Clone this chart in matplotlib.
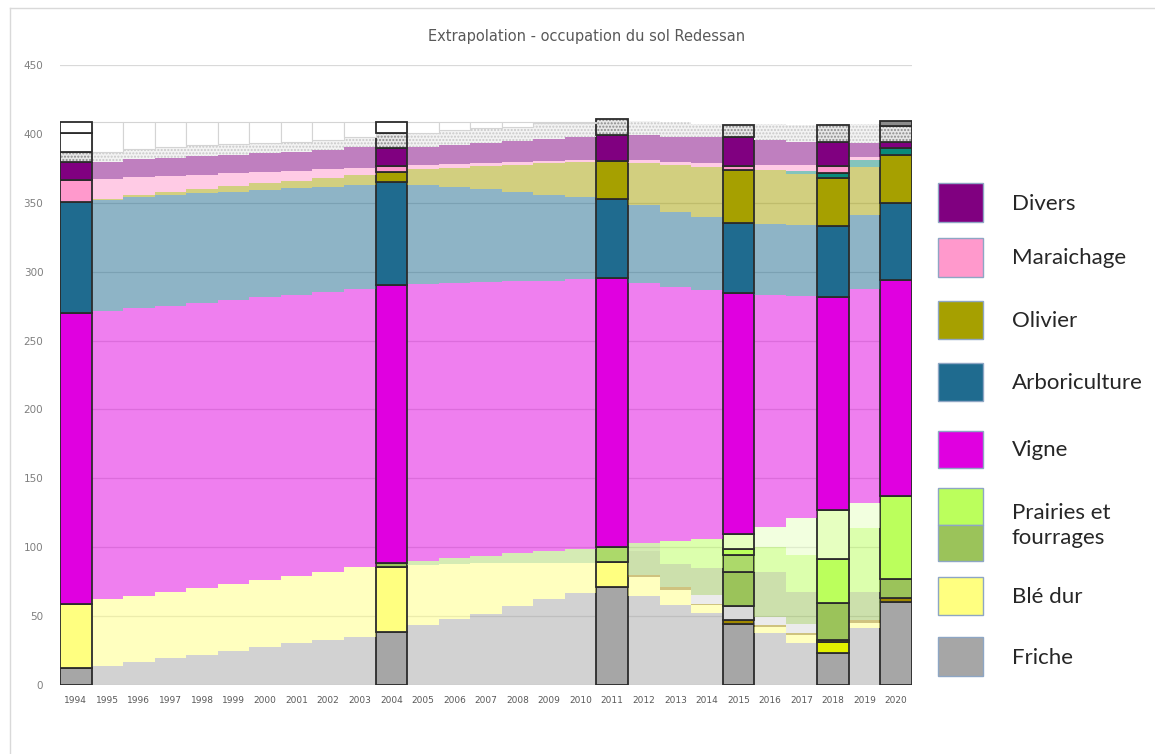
import matplotlib.pyplot as plt
from matplotlib.patches import Rectangle
from matplotlib.lines import Line2D
from matplotlib.colors import to_rgba

# Années et années réellement observées (barres pleines)
annees = list(range(1994, 2021))
observees = [1994, 2004, 2011, 2015, 2018, 2020]

# Surfaces (ha), de bas en haut
friche = [12.1, 13.8, 16.5, 19.4, 21.8, 24.9, 27.4, 30.3, 32.7, 35.1, 38.7, 43.5, 47.6, 51.5,
          57.3, 62.2, 66.5, 70.9, 64.6, 58.1, 52, 44.3, 37.5, 30.2, 23.2, 41.1, 60]
ble_dur = [46.5, 48.4, 48.1, 48.3, 48.4, 48.4, 48.8, 48.8, 49.5, 50.3, 46.9, 43.6, 40.2, 36.8,
           31, 26.1, 21.8, 18.6, 14, 10.9, 6, 0, 4.8, 6.4, 0, 4.1, 0]
cereales = [0]*24 + [8.2, 0, 0]
autres = [0]*18 + [1.2, 1.9, 0.8, 3.2, 1.2, 1.4, 1.1, 2, 2.9]
gris_clair = [0]*20 + [6.5, 9.8, 6, 6, 0, 0, 0]
prairie_fonce = [0]*10 + [3.2] + [0]*7 + [17.2, 17.1, 19.3, 24.7, 32.7, 23.7, 27, 20.5, 13.8]
prairie_mid = [0]*11 + [3.1, 4.1, 5.3, 7.3, 9, 10.4, 10.7, 5.8, 0, 0, 12.5, 0, 0, 0, 0, 0]
prairie_clair = [0]*19 + [16.5, 21.4, 4, 18.2, 26.7, 31.9, 46, 60.5]
prairie_pale = [0]*21 + [10.9, 14.5, 26.6, 35.6, 18.6, 0]
vigne = [211.4, 209.2, 209, 207.3, 207, 206.1, 205.3, 203.9, 203, 201.9, 201.5, 200.8, 199.7,
         198.9, 197.4, 196.2, 195.7, 195.2, 189.2, 184.5, 181, 175.3, 168, 161.3, 154.8, 154.9, 156.8]
arboriculture = [80.8, 80.6, 80.3, 80.6, 79.6, 78.6, 77.8, 77.5, 76, 75.6, 74.8, 71.9, 69.6, 67.2,
                 65, 62.1, 60, 57.3, 56.4, 54.5, 52.9, 50.8, 51.6, 51.6, 51.3, 53.9, 55.6]
olivier = [0, 0.5, 1.5, 2.5, 3, 4, 5, 5.5, 6.5, 7.5, 7.5, 11.3, 14.2, 16.9, 19.4, 23, 25.4, 27.6,
           30.6, 33.9, 36.3, 38.3, 39.2, 37, 35, 35.1, 35.1]
sarcle = [0]*23 + [2.4, 3.5, 4.8, 5.3]
maraichage = [15.7, 14.8, 13.1, 11.4, 10.7, 9.5, 8.2, 7.3, 6.5, 4.6, 4.4, 3.2, 3, 2.5, 2, 1.5, 1,
              0, 2, 2.4, 2.4, 3.2, 4, 4.1, 5, 2.5, 0]
divers = [13.3, 12.5, 13, 13.2, 13.5, 13.2, 13.4, 13.8, 14.1, 15.6, 12.7, 13.2, 13.5, 14.5, 15.6,
          16.1, 16.6, 19, 18.2, 18.2, 18.8, 20.5, 18.2, 16.9, 17.8, 10.1, 4.3]
hachure = [7.3, 7.3, 7.3, 7.9, 7.9, 7.9, 7.7, 7.2, 7.3, 7.4, 10.9, 9.9, 10.9, 10.4, 10.2, 11.4,
           10.7, 11.7, 10.4, 10.8, 9.8, 8.9, 11.2, 12.1, 12.1, 13.6, 11.4]
gris_fonce = [0]*26 + [3.9]
blanc = [13.4, 21.7, 20, 18.2, 16.9, 16.2, 15.2, 14.5, 13.2, 10.8, 0, 8.3, 6, 4.8, 3.6, 1.2, 0.7] + [0]*10
blanc_haut = [8.3] + [0]*9 + [8.2] + [0]*16

couches = [
    ("friche", friche, '#a6a6a6'),
    ("ble", ble_dur, '#ffff80'),
    ("cereales", cereales, '#e2f000'),
    ("autres", autres, '#a08800'),
    ("gris_clair", gris_clair, '#d9d9d9'),
    ("prairie_fonce", prairie_fonce, '#9bc35a'),
    ("prairie_mid", prairie_mid, '#acd96a'),
    ("prairie_clair", prairie_clair, '#bbff5c'),
    ("prairie_pale", prairie_pale, '#e6ffc0'),
    ("vigne", vigne, '#e000e0'),
    ("arbo", arboriculture, '#1f6b8f'),
    ("olivier", olivier, '#a6a000'),
    ("sarcle", sarcle, '#0a8a7a'),
    ("maraichage", maraichage, '#ff99cc'),
    ("divers", divers, '#800080'),
    ("hachure", hachure, '#dcdcdc'),
    ("gris_fonce", gris_fonce, '#8c8c8c'),
    ("blanc", blanc, '#ffffff'),
    ("blanc_haut", blanc_haut, '#ffffff'),
]

fig = plt.figure(figsize=(11.55, 7.54), dpi=100)
ax = fig.add_axes([60/1155, 69/754, 852/1155, 620/754])

n = len(annees)
bas = [0.0]*n
for nom, vals, coul in couches:
    io = [i for i in range(n) if vals[i] > 0 and annees[i] in observees]
    ie = [i for i in range(n) if vals[i] > 0 and annees[i] not in observees]
    h_e = [vals[i] for i in ie]
    b_e = [bas[i] for i in ie]
    h_o = [vals[i] for i in io]
    b_o = [bas[i] for i in io]
    if nom == "hachure":
        ax.bar(ie, h_e, bottom=b_e, width=1, color='#f3f3f3', edgecolor='#c8c8c8',
               linewidth=0, hatch='.....')
        ax.bar(io, h_o, bottom=b_o, width=1, color='#e6e6e6', edgecolor='#8a8a8a',
               linewidth=0, hatch='.....')
        ax.bar(io, h_o, bottom=b_o, width=1, fill=False, edgecolor='#2b2b2b', linewidth=1.3)
    elif nom.startswith("blanc"):
        ax.bar(ie, h_e, bottom=b_e, width=1, color='white', edgecolor='#d4d4d4', linewidth=0.8)
        ax.bar(io, h_o, bottom=b_o, width=1, color='white', edgecolor='#2b2b2b', linewidth=1.3)
    else:
        ax.bar(ie, h_e, bottom=b_e, width=1, color=to_rgba(coul, 0.5), linewidth=0)
        ax.bar(io, h_o, bottom=b_o, width=1, color=coul, edgecolor='#2b2b2b', linewidth=1.3)
    bas = [b + v for b, v in zip(bas, vals)]

ax.set_xlim(-0.5, n - 0.5)
ax.set_ylim(0, 450)
ax.set_yticks(range(0, 451, 50))
ax.set_xticks(range(n))
ax.set_xticklabels([str(a) for a in annees], fontsize=6.5, color='#595959')
ax.tick_params(axis='y', labelsize=7.5, labelcolor='#7f7f7f', length=0, pad=12)
ax.tick_params(axis='x', length=0, pad=8)
ax.grid(axis='y', color='#d9d9d9', linewidth=0.9)
ax.set_axisbelow(True)
for s in ax.spines.values():
    s.set_visible(False)

fig.text(587/1155, 1 - 36/754, "Extrapolation - occupation du sol Redessan",
         ha='center', va='center', fontsize=10.5, color='#595959')

# cadre de la zone graphique
fig.add_artist(Line2D([10/1155, 10/1155], [0, 1 - 8/754], color='#d9d9d9', linewidth=1))
fig.add_artist(Line2D([10/1155, 1], [1 - 8/754, 1 - 8/754], color='#d9d9d9', linewidth=1))

# légende dessinée à la main
legende = [
    ("Divers", ['#800080'], 183, 222),
    ("Maraichage", ['#ff99cc'], 238, 277),
    ("Olivier", ['#a6a000'], 301, 339),
    ("Arboriculture", ['#1f6b8f'], 363, 401),
    ("Vigne", ['#e000e0'], 431, 468),
    ("Prairies et\nfourrages", ['#bbff5c', '#9bc35a'], 488, 561),
    ("Blé dur", ['#ffff80'], 577, 615),
    ("Friche", ['#a6a6a6'], 637, 676),
]
x0, x1 = 938, 983
for texte, couls, y0, y1 in legende:
    hauteur = (y1 - y0) / len(couls)
    for k, c in enumerate(couls):
        yt = y0 + k * hauteur
        fig.add_artist(Rectangle((x0/1155, 1 - (yt + hauteur)/754), (x1 - x0)/1155, hauteur/754,
                                 facecolor=c, edgecolor='#8ea6c4', linewidth=1))
    fig.text(1012/1155, 1 - ((y0 + y1)/2 + 1)/754, texte, ha='left', va='center',
             fontsize=16, color='#262626', family='Lato', linespacing=1.3)

fig.savefig("out.png", dpi=100)
